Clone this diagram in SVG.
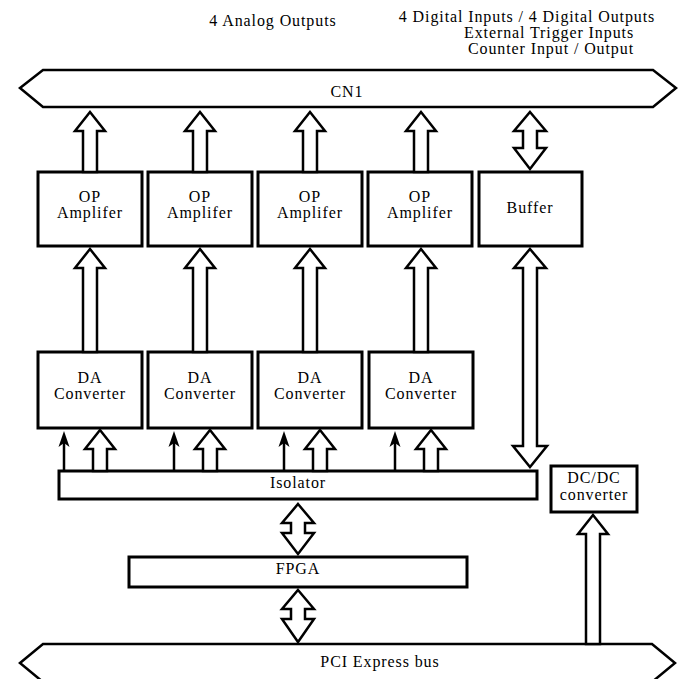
<svg xmlns="http://www.w3.org/2000/svg" width="686" height="679" viewBox="0 0 686 679">
<style>
text{font-family:"Liberation Serif","Times New Roman",serif;font-size:16px;letter-spacing:0.9px;fill:#000;text-anchor:middle}
.box{fill:#fff;stroke:#000;stroke-width:3}
.bus{fill:#fff;stroke:#000;stroke-width:2.5;stroke-linejoin:miter}
.arr{fill:#fff;stroke:#000;stroke-width:2.5;stroke-linejoin:miter}
.ln{stroke:#000;stroke-width:2.5;fill:none}
.hd{fill:#000;stroke:none}
</style>
<rect width="686" height="679" fill="#fff"/>
<g id="labels">
<text x="273" y="26">4 Analog Outputs</text>
<text x="527" y="22">4 Digital Inputs / 4 Digital Outputs</text>
<text x="549" y="38">External Trigger Inputs</text>
<text x="551" y="54">Counter Input / Output</text>
</g>
<g id="cn1">
<polygon class="bus" points="20,88 43,70 653,70 676,88 653,107 43,107"/>
<text x="347" y="97">CN1</text>
</g>
<g id="pci">
<polygon class="bus" points="20,663 43,644 652,644 675,663 652,682 43,682"/>
<text x="380" y="667">PCI Express bus</text>
</g>
<g id="op1"><rect class="box" x="38" y="172" width="104" height="74"/><text x="90" y="202">OP</text><text x="90" y="218">Amplifer</text></g>
<g id="op2"><rect class="box" x="148" y="172" width="104" height="74"/><text x="200" y="202">OP</text><text x="200" y="218">Amplifer</text></g>
<g id="op3"><rect class="box" x="258" y="172" width="104" height="74"/><text x="310" y="202">OP</text><text x="310" y="218">Amplifer</text></g>
<g id="op4"><rect class="box" x="368" y="172" width="104" height="74"/><text x="420" y="202">OP</text><text x="420" y="218">Amplifer</text></g>
<g id="buffer"><rect class="box" x="479" y="172" width="103" height="74"/><text x="530" y="213">Buffer</text></g>
<g id="da1"><rect class="box" x="38" y="352" width="104" height="76"/><text x="90" y="383">DA</text><text x="90" y="399">Converter</text></g>
<g id="da2"><rect class="box" x="148" y="352" width="104" height="76"/><text x="200" y="383">DA</text><text x="200" y="399">Converter</text></g>
<g id="da3"><rect class="box" x="258" y="352" width="104" height="76"/><text x="310" y="383">DA</text><text x="310" y="399">Converter</text></g>
<g id="da4"><rect class="box" x="369" y="352" width="104" height="76"/><text x="421" y="383">DA</text><text x="421" y="399">Converter</text></g>
<g id="isolator"><rect class="box" x="59" y="471" width="478" height="28"/><text x="298" y="488">Isolator</text></g>
<g id="dcdc"><rect class="box" x="551" y="466" width="86" height="46"/><text x="594" y="483">DC/DC</text><text x="594" y="500">converter</text></g>
<g id="fpga"><rect class="box" x="129" y="557" width="338" height="30"/><text x="298" y="574">FPGA</text></g>
<g id="connectors">
<polygon class="arr" points="90,112 105,131 97,131 97,172 83,172 83,131 75,131"/>
<polygon class="arr" points="200,112 215,131 207,131 207,172 193,172 193,131 185,131"/>
<polygon class="arr" points="310,112 325,131 317,131 317,172 303,172 303,131 295,131"/>
<polygon class="arr" points="421,112 436,131 428,131 428,172 414,172 414,131 406,131"/>
<polygon class="arr" points="530,112 546,131 537,131 537,148 546,148 530,169 514,148 523,148 523,131 514,131"/>
<polygon class="arr" points="90,249 105,268 97,268 97,352 83,352 83,268 75,268"/>
<polygon class="arr" points="200,249 215,268 207,268 207,352 193,352 193,268 185,268"/>
<polygon class="arr" points="310,249 325,268 317,268 317,352 303,352 303,268 295,268"/>
<polygon class="arr" points="421,249 436,268 428,268 428,352 414,352 414,268 406,268"/>
<polygon class="arr" points="530,249 546,268 537,268 537,446 547,446 530,467 513,446 523,446 523,268 514,268"/>
<polygon class="arr" points="100,430 115,449 107,449 107,471 93,471 93,449 85,449"/>
<polygon class="arr" points="210,430 225,449 217,449 217,471 203,471 203,449 195,449"/>
<polygon class="arr" points="320,430 335,449 327,449 327,471 313,471 313,449 305,449"/>
<polygon class="arr" points="431,430 446,449 438,449 438,471 424,471 424,449 416,449"/>
<line class="ln" x1="64" y1="471" x2="64" y2="440"/>
<polygon class="hd" points="64,431 69.5,447 64,443 58.5,447"/>
<line class="ln" x1="174" y1="471" x2="174" y2="440"/>
<polygon class="hd" points="174,431 179.5,447 174,443 168.5,447"/>
<line class="ln" x1="284" y1="471" x2="284" y2="440"/>
<polygon class="hd" points="284,431 289.5,447 284,443 278.5,447"/>
<line class="ln" x1="395" y1="471" x2="395" y2="440"/>
<polygon class="hd" points="395,431 400.5,447 395,443 389.5,447"/>
<polygon class="arr" points="298,504 314,523 305,523 305,533 314,533 298,554 282,533 291,533 291,523 282,523"/>
<polygon class="arr" points="298,590 314,609 305,609 305,619 314,619 298,642 282,619 291,619 291,609 282,609"/>
<polygon class="arr" points="593,515 608,534 600,534 600,644 586,644 586,534 578,534"/>
</g>
</svg>
